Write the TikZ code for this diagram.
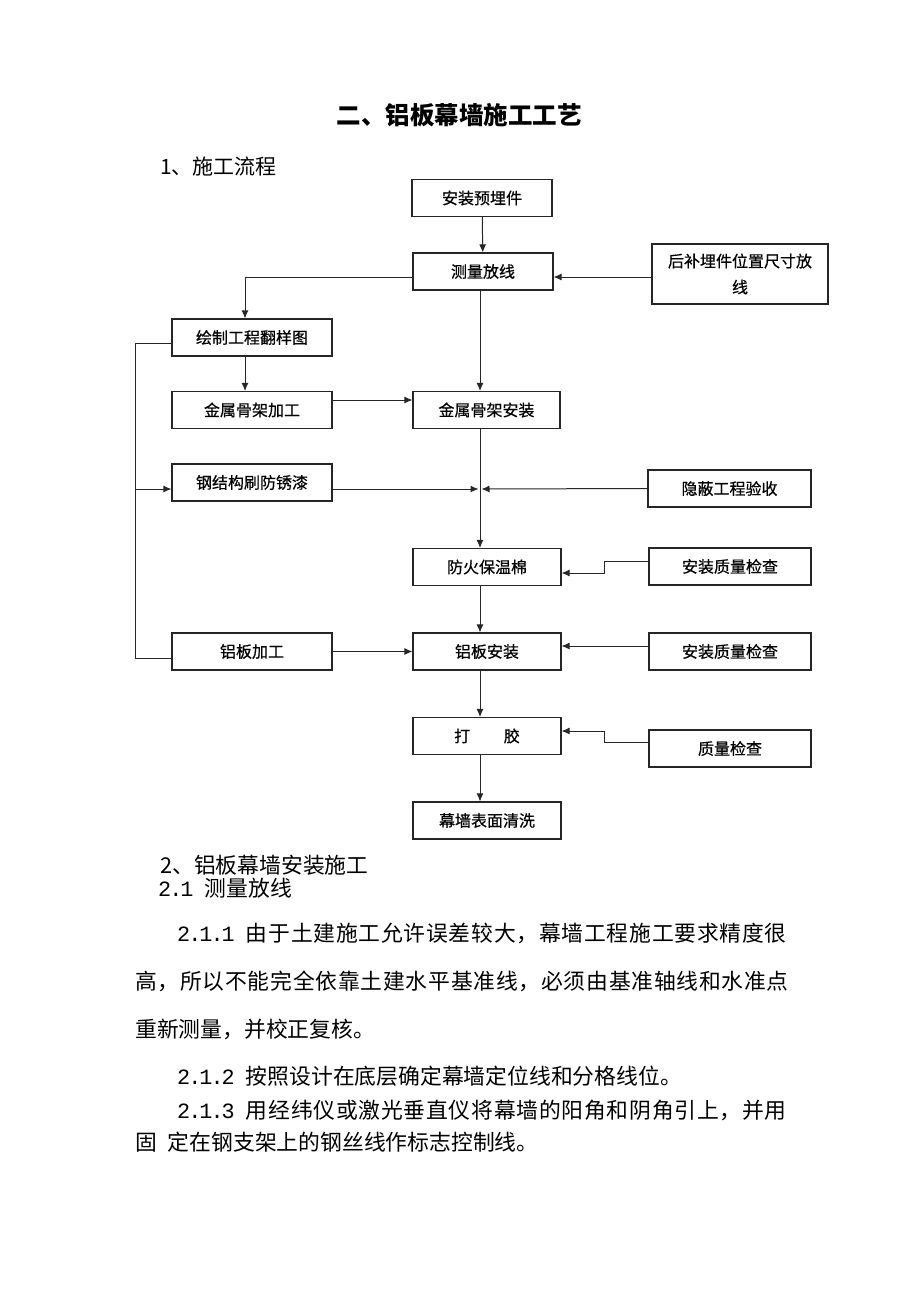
\documentclass[tikz,border=0pt]{standalone}
\usepackage{fontspec}
\setmainfont{Noto Sans CJK SC}
\newfontfamily\boxfont[FakeBold=0.6]{Noto Sans CJK SC}
\newfontfamily\widefont[LetterSpace=3.5]{Noto Sans CJK SC}
\newfontfamily\numfont[LetterSpace=-9]{Liberation Mono}
\newcommand\secnum[1]{{\numfont #1}}
\usetikzlibrary{calc,arrows.meta}

\begin{document}
\begin{tikzpicture}[x=1pt,y=-1pt]

    \tikzstyle{box}=[draw=black!85, line width=1.1pt, inner sep=0pt, minimum height=37pt, font=\boxfont\fontsize{16}{26}\selectfont];
    \tikzstyle{link}=[draw=black!85, line width=1pt, -{Latex[length=8pt,width=7pt]}];
    \tikzstyle{line}=[draw=black!85, line width=1pt];
    \tikzstyle{rim}=[draw=black!85, line width=1.6pt, line cap=rect];
    \tikzstyle{txt}=[anchor=west, inner sep=0pt, font=\fontsize{21.8}{24}\selectfont];
    \tikzstyle{wtxt}=[txt, font=\widefont\fontsize{21.8}{24}\selectfont];

    \useasboundingbox (0,0) rectangle (920,1302);

    % headings
    \node[font=\fontsize{24.5}{28}\selectfont\bfseries] (title) at (459,115) {二、铝板幕墙施工工艺};
    \node[txt, font=\fontsize{21}{24}\selectfont] (h1) at (160,167) {1、施工流程};

    % main column
    \node[box, minimum width=140pt] (yumai) at (482,198) {安装预埋件};
    \node[box, minimum width=140pt] (celiang) at (483,271.5) {测量放线};
    \node[box, minimum width=147pt] (anzhuang) at (486.5,410) {金属骨架安装};
    \node[box, minimum width=148pt] (fanghuo) at (487,567) {防火保温棉};
    \node[box, minimum width=148pt] (lbaz) at (487,651.5) {铝板安装};
    \node[box, minimum width=148pt] (dajiao) at (487,736) {打\hspace{2.1em}胶};
    \node[box, minimum width=148pt] (qingxi) at (487,820.5) {幕墙表面清洗};

    % left column
    \node[box, minimum width=160pt] (huizhi) at (252,337.5) {绘制工程翻样图};
    \node[box, minimum width=160pt] (jiagong) at (252,410) {金属骨架加工};
    \node[box, minimum width=160pt] (gangjie) at (252,482.5) {钢结构刷防锈漆};
    \node[box, minimum width=160pt] (lbjg) at (252,651.5) {铝板加工};

    % right column
    \node[box, minimum width=176pt, minimum height=60pt, align=center] (houbu) at (740,274) {后补埋件位置尺寸放\\线};
    \node[box, minimum width=163pt] (yinbi) at (729.5,488.5) {隐蔽工程验收};
    \node[box, minimum width=162pt] (jc1) at (730,566.5) {安装质量检查};
    \node[box, minimum width=162pt] (jc2) at (730,651.5) {安装质量检查};
    \node[box, minimum width=162pt] (jc3) at (730,748.5) {质量检查};

    % heavier right and bottom edges
    \foreach \n in {yinbi,jc1,jc2,jc3}
        \draw[rim] (\n.north east) -- (\n.south east) -- (\n.south west);
    \draw[rim] (gangjie.south west) -- (gangjie.south east);

    % routing axes
    \coordinate (ax) at (480,0);
    \coordinate (hx) at (245,0);
    \coordinate (lx) at (135,0);
    \coordinate (kx) at (604,0);
    \coordinate (jn) at ($(ax |- gangjie.east)+(0,6.5)$);
    \coordinate (lb1) at ([yshift=-6.5pt]lbjg.west);
    \coordinate (gb) at ([yshift=-6.5pt]gangjie.west);
    \coordinate (f1) at ([yshift=-6pt]fanghuo.east);
    \coordinate (d1) at ([yshift=5pt]dajiao.east);

    % connectors
    \draw[link] (yumai) -- (celiang);
    \draw[link] ([yshift=-3pt]houbu.west) -- ([yshift=-5.5pt]celiang.east);
    \draw[link] ([yshift=-5.5pt]celiang.west) -| (hx |- huizhi.north);
    \draw[link] (hx |- huizhi.south) -- (hx |- jiagong.north);
    \draw[link] ([yshift=10pt]jiagong.east) -- ([yshift=10pt]anzhuang.west);
    \draw[link] (ax |- celiang.south) -- (ax |- anzhuang.north);
    \draw[link] (ax |- anzhuang.south) -- (ax |- fanghuo.north);
    \draw[link, shorten >=1.5pt] ([yshift=-6.5pt]gangjie.east) -- (jn);
    \draw[link, shorten >=1.5pt] (yinbi.west) -- (jn);
    \draw[link] (ax |- fanghuo.south) -- (ax |- lbaz.north);
    \draw[link] (ax |- lbaz.south) -- (ax |- dajiao.north);
    \draw[link] (ax |- dajiao.south) -- (ax |- qingxi.north);
    \draw[link] (lbjg) -- (lbaz);

    \draw[line] ([yshift=-5.5pt]huizhi.west) -| (lx |- lb1) -- (lb1);
    \draw[link] (lx |- gb) -- (gb);

    \draw[link] ([yshift=5.5pt]jc1.west) -| (kx |- f1) -- (f1);
    \draw[link] ([yshift=5.5pt]jc2.west) -- ([yshift=5.5pt]lbaz.east);
    \draw[link] ([yshift=6.5pt]jc3.west) -| (kx |- d1) -- (d1);

    % body text
    \node[txt] (s2) at (160,865) {2、铝板幕墙安装施工};
    \node[txt] (s21) at (158,888) {\secnum{2.1 }测量放线};
    \node[wtxt] (p1) at (177,933) {\secnum{2.1.1 }由于土建施工允许误差较大，幕墙工程施工要求精度很};
    \node[wtxt] (p2) at (135,981) {高，所以不能完全依靠土建水平基准线，必须由基准轴线和水准点};
    \node[txt] (p3) at (135,1029) {重新测量，并校正复核。};
    \node[txt] (p4) at (177,1076) {\secnum{2.1.2 }按照设计在底层确定幕墙定位线和分格线位。};
    \node[wtxt] (p5) at (177,1110) {\secnum{2.1.3 }用经纬仪或激光垂直仪将幕墙的阳角和阴角引上，并用};
    \node[txt] (p6) at (135,1142) {固\hspace{0.5em}定在钢支架上的钢丝线作标志控制线。};

\end{tikzpicture}
\end{document}
